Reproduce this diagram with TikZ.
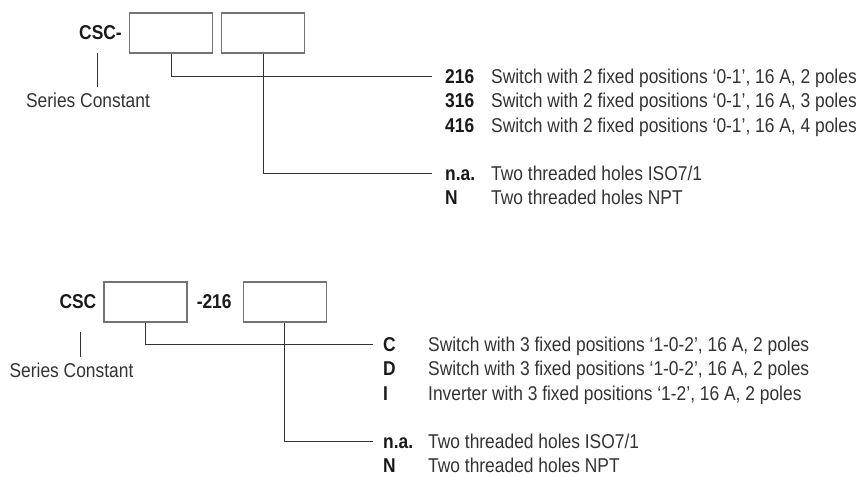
\documentclass[tikz,border=0pt]{standalone}
\usepackage{fontspec}
\setmainfont{Liberation Sans}[FakeStretch=0.87]
\usepackage{tikz}
\usetikzlibrary{positioning}

\begin{document}
\begin{tikzpicture}[x=1pt, y=1pt,
  font=\fontsize{20pt}{24pt}\selectfont,
  codebox/.style={draw=black!55, line width=1.1pt, minimum width=83pt, minimum height=40pt, inner sep=0pt},
  head/.style={font=\fontsize{20pt}{24pt}\selectfont\bfseries, text=black!90, inner sep=0pt},
  code/.style={font=\fontsize{20pt}{24pt}\selectfont\bfseries, text=black!90, inner sep=0pt, text height=14.5pt, text depth=0pt, anchor=west},
  desc/.style={text=black!80, inner sep=0pt, text height=14.5pt, text depth=0pt, anchor=west},
  series/.style={text=black!80, inner xsep=0pt, inner ysep=5pt},
  lead/.style={draw=black!80, line width=0.9pt}]
 \useasboundingbox (0,0) rectangle (864,-478);
 % Upper code CSC- with its two empty fields
 \node[codebox] (Code1) at (171,-33) {};
 \node[codebox, right=8pt of Code1] (Code2) {};
 \node[head, left=7pt of Code1] (Pre1) {CSC-};
 \node[series] (Ser1) at (88,-100) {Series Constant};
 \coordinate (Tick1) at (97,-53);
 % Options of the upper code, rows placed with 'below=' under each other
 \node[code] (T216) at (445,-76) {216};
 \node[code, below=9.5pt of T216.south west, anchor=north west] (T316) {316};
 \node[code, below=9.5pt of T316.south west, anchor=north west] (T416) {416};
 \node[code, below=33.5pt of T416.south west, anchor=north west] (TNa) {n.a.};
 \node[code, below=9.5pt of TNa.south west, anchor=north west] (TN) {N};
 \node[desc] (S216) at ([xshift=46pt]T216.west) {Switch with 2 fixed positions ‘0-1’, 16 A, 2 poles};
 \node[desc] (S316) at ([xshift=46pt]T316.west) {Switch with 2 fixed positions ‘0-1’, 16 A, 3 poles};
 \node[desc] (S416) at ([xshift=46pt]T416.west) {Switch with 2 fixed positions ‘0-1’, 16 A, 4 poles};
 \node[desc] (SNa) at ([xshift=46pt]TNa.west) {Two threaded holes ISO7/1};
 \node[desc] (SN) at ([xshift=46pt]TN.west) {Two threaded holes NPT};
 % Leaders of the upper code
 \draw[lead] (Tick1) -- (Tick1 |- Ser1.north);
 \draw[lead] (Code1.south) |- ([xshift=-13pt]T216.west);
 \draw[lead] (Code2.south) |- ([xshift=-13pt]TNa.west);

 % Lower code CSC ... -216 ...
 \node[codebox] (Code3) at (145.5,-302) {};
 \node[head, right=9pt of Code3] (Mid2) {-216};
 \node[codebox, right=11pt of Mid2] (Code4) {};
 \node[head, left=7pt of Code3] (Pre2) {CSC};
 \node[series] (Ser2) at (71.5,-370) {Series Constant};
 \coordinate (Tick2) at (80,-332);
 % Options of the lower code
 \node[code] (BC) at (383,-344) {C};
 \node[code, below=9.5pt of BC.south west, anchor=north west] (BD) {D};
 \node[code, below=9.5pt of BD.south west, anchor=north west] (BI) {I};
 \node[code, below=33.5pt of BI.south west, anchor=north west] (BNa) {n.a.};
 \node[code, below=9.5pt of BNa.south west, anchor=north west] (BN) {N};
 \node[desc] (SC) at ([xshift=45pt]BC.west) {Switch with 3 fixed positions ‘1-0-2’, 16 A, 2 poles};
 \node[desc] (SD) at ([xshift=45pt]BD.west) {Switch with 3 fixed positions ‘1-0-2’, 16 A, 2 poles};
 \node[desc] (SI) at ([xshift=45pt]BI.west) {Inverter with 3 fixed positions ‘1-2’, 16 A, 2 poles};
 \node[desc] (SBNa) at ([xshift=45pt]BNa.west) {Two threaded holes ISO7/1};
 \node[desc] (SBN) at ([xshift=45pt]BN.west) {Two threaded holes NPT};
 % Leaders of the lower code
 \draw[lead] (Tick2) -- (Tick2 |- Ser2.north);
 \draw[lead] (Code3.south) |- ([xshift=-10pt]BC.west);
 \draw[lead] (Code4.south) |- ([xshift=-10pt]BNa.west);
\end{tikzpicture}
\end{document}
